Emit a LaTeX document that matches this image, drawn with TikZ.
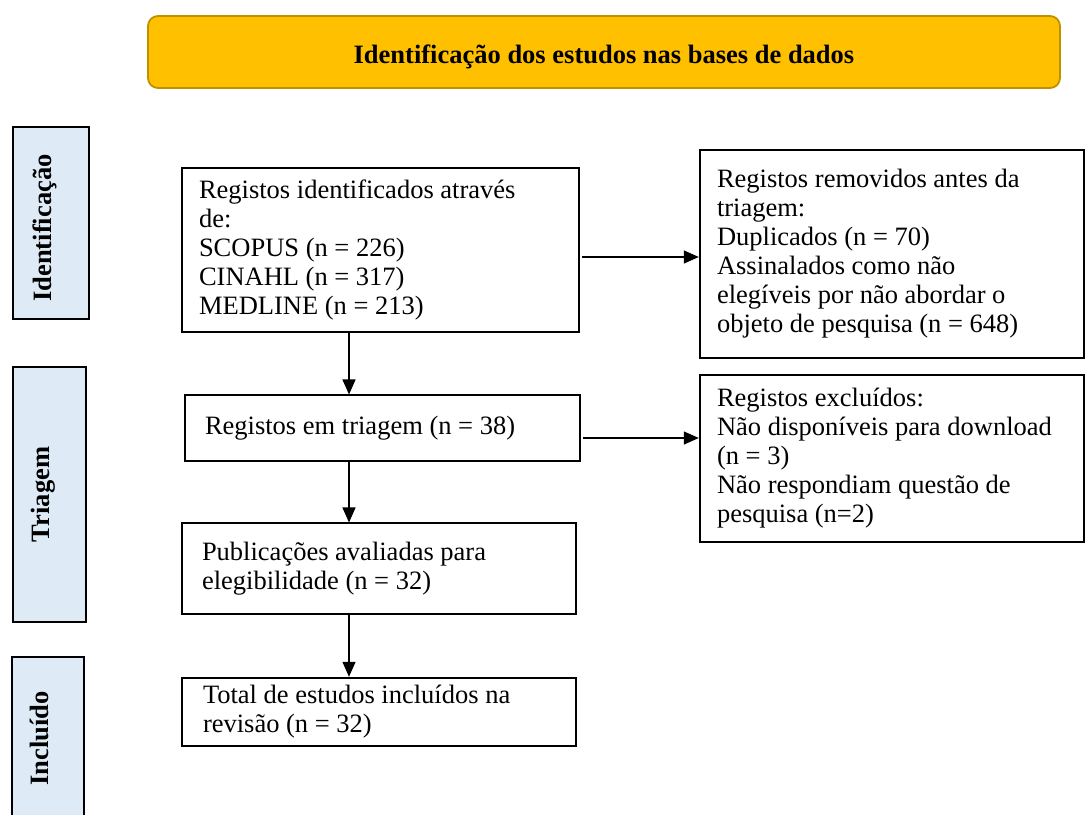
\documentclass[tikz,border=0pt]{standalone}
\usepackage{fontspec}
\setmainfont{Liberation Serif}
\usetikzlibrary{arrows.meta}
\definecolor{hdrfill}{HTML}{FFC000}
\definecolor{hdrdraw}{HTML}{BF9000}
\definecolor{sidefill}{HTML}{DEEBF7}
\begin{document}
\begin{tikzpicture}[x=1pt,y=-1pt,
  txt/.style={font=\fontsize{26.5}{29}\selectfont},
  flowbox/.style={draw, rectangle, align=flush left, inner ysep=0pt, txt},
  thickbox/.style={flowbox, line width=2.4pt},
  thinbox/.style={flowbox, line width=1.1pt},
  sidebox/.style={draw, rectangle, line width=1.8pt, fill=sidefill, rotate=90,
    font=\fontsize{26.5}{30}\selectfont\bfseries, inner sep=0pt,
    text height=6pt, text depth=6pt},
  header/.style={draw=hdrdraw, fill=hdrfill, line width=1.8pt, rounded corners=10pt,
    font=\fontsize{26.5}{30}\selectfont\bfseries, inner sep=0pt,
    text height=22pt, text depth=0pt},
  arr/.style={line width=1.3pt, -{Triangle[length=15pt,width=13pt]}}
]
\fill[white] (0,0) rectangle (1086,814);
\clip (0,0) rectangle (1086,814);

% header
\node[header, minimum width=912pt, minimum height=72pt] (hdr) at (604,52)
  {Identificação dos estudos nas bases de dados};

% side labels
\node[sidebox, minimum width=192pt, minimum height=76pt] (s1) at (51,223) {Identificação\hspace*{10pt}};
\node[sidebox, minimum width=255pt, minimum height=73pt] (s2) at (49.5,494.5) {Triagem};
\node[sidebox, minimum width=163pt, minimum height=72pt] (s3) at (48,738.5) {Incluído};

% flow boxes
\node[thickbox, text width=363pt, inner xsep=17pt, minimum height=164pt] (b1) at (380.5,250)
  {Registos identificados através\\de:\\SCOPUS (n = 226)\\CINAHL (n = 317)\\MEDLINE (n = 213)};
\node[thickbox, text width=350pt, inner xsep=17pt, minimum height=208pt] (b2) at (892,254)
  {Registos removidos antes da\\triagem:\\Duplicados (n = 70)\\Assinalados como não\\elegíveis por não abordar o\\objeto de pesquisa (n = 648)};
\node[thinbox, text width=355pt, inner xsep=20pt, minimum height=66pt] (b3) at (382.5,428)
  {Registos em triagem (n = 38)};
\node[thinbox, text width=354pt, inner xsep=20pt, minimum height=91pt] (b4) at (379,568.5)
  {Publicações avaliadas para\\elegibilidade (n = 32)};
\node[thickbox, text width=352pt, inner xsep=21pt, minimum height=68pt] (b5) at (379,712)
  {Total de estudos incluídos na\\revisão (n = 32)};
\node[thickbox, text width=350pt, inner xsep=17pt, minimum height=167pt] (b6) at (892,458.5)
  {Registos excluídos:\\Não disponíveis para download\\(n = 3)\\Não respondiam questão de\\pesquisa (n=2)};

% connector guides
\coordinate (ax) at (349,0);
\coordinate (h1) at (0,257);
\coordinate (h2) at (0,438);

\draw[arr] (b1.south -| ax) -- (b3.north -| ax);
\draw[arr] (b3.south -| ax) -- (b4.north -| ax);
\draw[arr] (b4.south -| ax) -- (b5.north -| ax);
\draw[arr] ([xshift=2pt]b1.east |- h1) -- (b2.west |- h1);
\draw[arr] ([xshift=2pt]b3.east |- h2) -- (b6.west |- h2);
\end{tikzpicture}
\end{document}
